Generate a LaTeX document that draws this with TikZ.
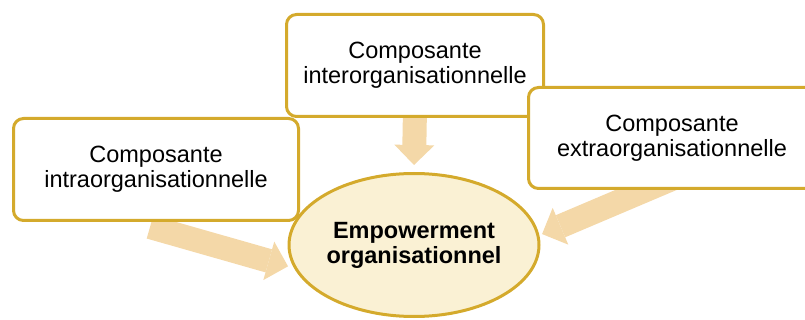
\documentclass[tikz,border=0pt]{standalone}
\usepackage{fontspec}
\setmainfont{Liberation Sans}
\usetikzlibrary{arrows.meta,shapes.geometric,backgrounds}
\definecolor{gold}{RGB}{212,170,44}
\definecolor{sand}{RGB}{244,216,168}
\definecolor{cream}{RGB}{250,241,212}
\begin{document}
\begin{tikzpicture}[x=1pt,y=-1pt,line join=round]
\tikzset{every node/.style={font=\fontsize{23.5}{25}\selectfont,align=center,inner sep=0pt},
  compbox/.style={draw=gold,fill=white,line width=3pt,rounded corners=10pt},
  fatarrow/.style={draw=sand,line width=24pt,-{Triangle[length=20pt,width=40pt,line width=0pt]}}}
\clip (0,0) rectangle (805,320);
\node[ellipse,draw=gold,fill=cream,line width=3pt,minimum width=250pt,minimum height=143pt,
  font=\fontsize{23.5}{25}\selectfont\bfseries] (emp) at (414,245) {Empowerment\\organisationnel};
\node[compbox,minimum width=257pt,minimum height=102pt] (inter) at (415,65.5) {Composante\\interorganisationnelle};
\node[compbox,minimum width=285pt,minimum height=102pt] (intra) at (156,169.5) {Composante\\intraorganisationnelle};
\node[compbox,minimum width=287pt,minimum height=101pt] (extra) at (672,138) {Composante\\extraorganisationnelle};
\begin{scope}[on background layer]
\draw[fatarrow] ([yshift=10pt]inter.south) -- ([yshift=7pt]emp.north);
\draw[fatarrow] ([shift={(-6pt,-5pt)}]intra.south) -- ([xshift=-5pt]emp.190);
\draw[fatarrow] ([shift={(1pt,11.5pt)}]extra.south) -- ([xshift=3pt]emp.5);
\end{scope}
\end{tikzpicture}
\end{document}
